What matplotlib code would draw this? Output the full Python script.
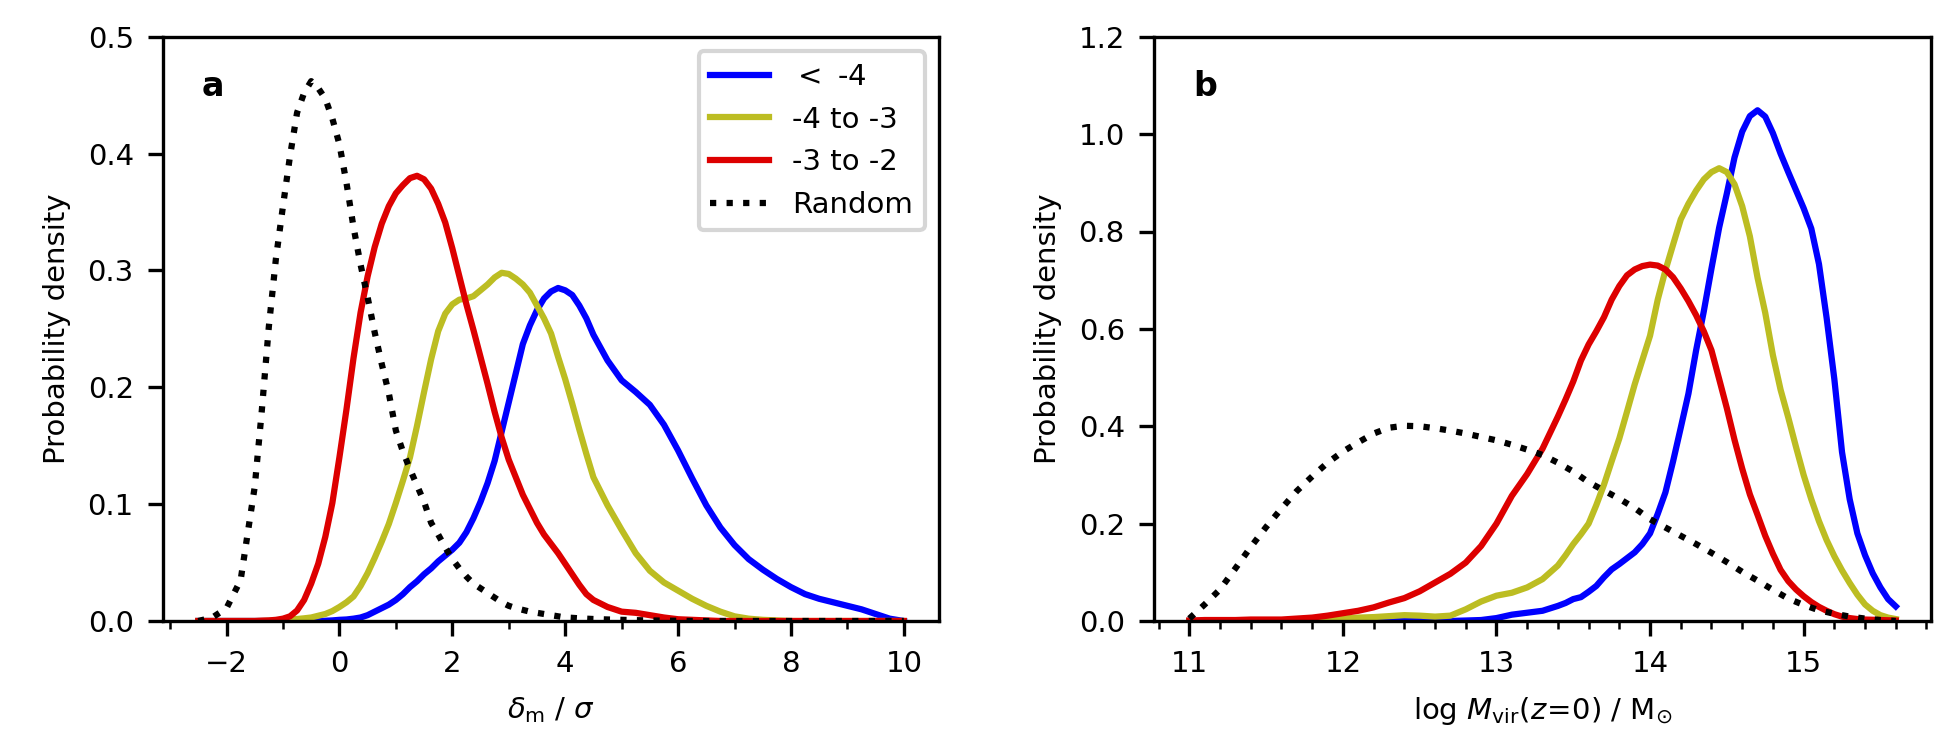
import numpy as np
import matplotlib
matplotlib.use("Agg")
import matplotlib.pyplot as plt
from matplotlib.ticker import AutoMinorLocator, MultipleLocator, FormatStrFormatter

# ---------------- Panel a data: delta_m / sigma ----------------
xa = [-2.5, -2.25, -2.0, -1.75,
      -1.5, -1.375, -1.25, -1.125, -1.0, -0.875, -0.75, -0.625, -0.5, -0.375,
      -0.25, -0.125, 0.0, 0.125, 0.25, 0.375, 0.5, 0.625, 0.75, 0.875,
      1.0, 1.125, 1.25, 1.375, 1.5, 1.625, 1.75, 1.875, 2.0, 2.125,
      2.25, 2.375, 2.5, 2.625, 2.75, 2.875, 3.0, 3.125, 3.25, 3.375,
      3.5, 3.625, 3.75, 3.875, 4.0, 4.125, 4.25, 4.375, 4.5,
      4.75, 5.0, 5.25, 5.5, 5.75, 6.0, 6.25, 6.5, 6.75, 7.0, 7.25,
      7.5, 7.75, 8.0, 8.25, 8.5, 8.75, 9.0, 9.25, 9.5, 9.75, 10.0]

a_lt4 = [0, 0, 0, 0,
         0, 0, 0, 0, 0, 0, 0, 0, 0, 0,
         0.0002, 0.0005, 0.001, 0.0013, 0.002, 0.003, 0.005, 0.008, 0.011, 0.014,
         0.018, 0.023, 0.029, 0.034, 0.040, 0.045, 0.051, 0.056, 0.061, 0.067,
         0.076, 0.088, 0.102, 0.118, 0.137, 0.162, 0.187, 0.212, 0.237, 0.253,
         0.266, 0.276, 0.282, 0.285, 0.283, 0.279, 0.270, 0.259, 0.245,
         0.223, 0.206, 0.196, 0.185, 0.168, 0.146, 0.122, 0.099, 0.080, 0.065, 0.053,
         0.044, 0.036, 0.029, 0.023, 0.019, 0.016, 0.013, 0.010, 0.006, 0.002, 0.0]

a_4to3 = [0, 0, 0, 0,
          0, 0, 0.0002, 0.0005, 0.001, 0.0013, 0.0017, 0.0023, 0.003, 0.0045,
          0.006, 0.0085, 0.012, 0.016, 0.021, 0.030, 0.041, 0.054, 0.068, 0.083,
          0.101, 0.120, 0.140, 0.167, 0.196, 0.224, 0.248, 0.263, 0.271, 0.275,
          0.276, 0.278, 0.283, 0.288, 0.294, 0.298, 0.297, 0.293, 0.288, 0.281,
          0.270, 0.259, 0.246, 0.226, 0.207, 0.186, 0.164, 0.143, 0.123,
          0.099, 0.078, 0.058, 0.043, 0.033, 0.026, 0.019, 0.013, 0.008, 0.004, 0.002,
          0.001, 0.0005, 0, 0, 0, 0, 0, 0, 0, 0, 0]

a_3to2 = [0, 0, 0, 0,
          0.0, 0.0003, 0.0005, 0.001, 0.002, 0.004, 0.009, 0.018, 0.032, 0.049,
          0.072, 0.101, 0.140, 0.181, 0.225, 0.264, 0.295, 0.320, 0.340, 0.355,
          0.366, 0.373, 0.379, 0.381, 0.378, 0.370, 0.357, 0.341, 0.319, 0.295,
          0.271, 0.249, 0.226, 0.203, 0.179, 0.157, 0.138, 0.123, 0.108, 0.096,
          0.084, 0.074, 0.066, 0.058, 0.049, 0.040, 0.031, 0.023, 0.018,
          0.012, 0.008, 0.007, 0.005, 0.003, 0.0015, 0.001, 0.0005, 0, 0, 0,
          0, 0, 0, 0, 0, 0, 0, 0, 0, 0, 0]

a_rand = [0.0, 0.003, 0.011, 0.035,
          0.115, 0.180, 0.252, 0.310, 0.355, 0.398, 0.435, 0.452, 0.462, 0.456,
          0.447, 0.430, 0.408, 0.375, 0.337, 0.305, 0.277, 0.247, 0.220, 0.195,
          0.163, 0.145, 0.130, 0.116, 0.102, 0.084, 0.074, 0.063, 0.053, 0.045,
          0.038, 0.032, 0.028, 0.024, 0.020, 0.016, 0.013, 0.011, 0.0095, 0.008,
          0.007, 0.006, 0.005, 0.004, 0.003, 0.0027, 0.0023, 0.002, 0.0017,
          0.0013, 0.001, 0.0007, 0.0005, 0.0003, 0.0002, 0, 0, 0, 0, 0,
          0, 0, 0, 0, 0, 0, 0, 0, 0, 0, 0]

# ---------------- Panel b data: log Mvir(z=0) ----------------
xb = [11.0, 11.1, 11.2, 11.3, 11.4, 11.5, 11.6, 11.7, 11.8, 11.9,
      12.0, 12.1, 12.2, 12.3, 12.4, 12.5, 12.6, 12.7, 12.8, 12.9,
      13.0, 13.1, 13.2, 13.3, 13.4,
      13.45, 13.5, 13.55, 13.6, 13.65, 13.7, 13.75, 13.8, 13.85, 13.9,
      13.95, 14.0, 14.05, 14.1, 14.15, 14.2, 14.25, 14.3, 14.35, 14.4,
      14.45, 14.5, 14.55, 14.6, 14.65, 14.7, 14.75, 14.8, 14.85, 14.9,
      14.95, 15.0, 15.05, 15.1, 15.15, 15.2, 15.25, 15.3, 15.35, 15.4,
      15.45, 15.5, 15.55, 15.6]

b_lt4 = [0, 0, 0, 0, 0, 0, 0, 0, 0, 0,
         0, 0, 0, 0, 0, 0, 0, 0, 0.001, 0.002,
         0.006, 0.013, 0.017, 0.021, 0.031,
         0.037, 0.045, 0.049, 0.060, 0.072, 0.090, 0.106, 0.117, 0.129, 0.141,
         0.158, 0.180, 0.220, 0.264, 0.328, 0.397, 0.467, 0.556, 0.636, 0.724,
         0.808, 0.878, 0.952, 1.005, 1.037, 1.049, 1.036, 1.002, 0.960, 0.922,
         0.885, 0.848, 0.806, 0.733, 0.622, 0.497, 0.347, 0.250, 0.180, 0.135,
         0.098, 0.069, 0.045, 0.030]

b_4to3 = [0, 0, 0, 0, 0, 0, 0.001, 0.001, 0.002, 0.003,
          0.005, 0.007, 0.008, 0.010, 0.012, 0.011, 0.009, 0.011, 0.024, 0.040,
          0.052, 0.058, 0.069, 0.086, 0.114,
          0.135, 0.158, 0.178, 0.200, 0.238, 0.280, 0.328, 0.375, 0.430, 0.486,
          0.536, 0.586, 0.660, 0.720, 0.773, 0.825, 0.857, 0.884, 0.907, 0.922,
          0.930, 0.922, 0.897, 0.852, 0.790, 0.705, 0.633, 0.546, 0.475, 0.418,
          0.358, 0.300, 0.250, 0.205, 0.166, 0.133, 0.104, 0.078, 0.054, 0.034,
          0.021, 0.012, 0.007, 0.004]

b_3to2 = [0.001, 0.002, 0.002, 0.002, 0.003, 0.003, 0.003, 0.005, 0.007, 0.011,
          0.016, 0.021, 0.028, 0.038, 0.047, 0.061, 0.079, 0.097, 0.120, 0.154,
          0.200, 0.257, 0.302, 0.354, 0.420,
          0.455, 0.492, 0.535, 0.568, 0.595, 0.624, 0.660, 0.688, 0.710, 0.722,
          0.729, 0.732, 0.730, 0.722, 0.706, 0.683, 0.657, 0.628, 0.595, 0.556,
          0.497, 0.437, 0.372, 0.313, 0.260, 0.218, 0.175, 0.138, 0.105, 0.082,
          0.065, 0.051, 0.039, 0.029, 0.021, 0.014, 0.009, 0.006, 0.004, 0.003,
          0.0025, 0.002, 0.0015, 0.001]

xb_rand = [11.0, 11.1, 11.2, 11.3, 11.4, 11.5, 11.6, 11.7, 11.8, 11.9,
           12.0, 12.1, 12.2, 12.3, 12.4, 12.5, 12.6, 12.7, 12.8, 12.9,
           13.0, 13.1, 13.2, 13.3, 13.4, 13.5, 13.6, 13.7, 13.8, 13.9,
           14.0, 14.1, 14.2, 14.3, 14.4, 14.5, 14.6, 14.7, 14.8, 14.9,
           15.0, 15.1, 15.2, 15.3, 15.4, 15.5, 15.6]

b_rand = [0.005, 0.034, 0.065, 0.108, 0.152, 0.193, 0.231, 0.267, 0.297, 0.325,
          0.348, 0.367, 0.385, 0.397, 0.401, 0.400, 0.396, 0.391, 0.385, 0.378,
          0.371, 0.362, 0.352, 0.341, 0.325, 0.307, 0.285, 0.268, 0.251, 0.232,
          0.209, 0.192, 0.175, 0.158, 0.140, 0.121, 0.101, 0.083, 0.064, 0.046,
          0.033, 0.022, 0.015, 0.009, 0.005, 0.002, 0.0]

labels = [r'$<$ -4', '-4 to -3', '-3 to -2', 'Random']
colors = ['#0000ff', '#bcbd22', '#dd0000', 'black']

plt.rcParams['font.family'] = ['DejaVu Sans']
plt.rcParams['font.size'] = 7

fig = plt.figure(figsize=(6.5, 2.5), dpi=300)
ax1 = fig.add_axes([0.0836, 0.172, 0.398, 0.779])
ax2 = fig.add_axes([0.5918, 0.172, 0.3985, 0.779])

lw = 1.5
for ys, lab, col in zip([a_lt4, a_4to3, a_3to2], labels[:3], colors[:3]):
    ax1.plot(xa, ys, color=col, lw=lw, label=lab)
ax1.plot(xa, a_rand, color='black', lw=lw, ls=':', label=labels[3])

for ys, lab, col in zip([b_lt4, b_4to3, b_3to2], labels[:3], colors[:3]):
    ax2.plot(xb, ys, color=col, lw=lw, label=lab)
ax2.plot(xb_rand, b_rand, color='black', lw=lw, ls=':', label=labels[3])

ax1.set_ylim(0, 0.5)
ax1.yaxis.set_major_locator(MultipleLocator(0.1))
ax1.xaxis.set_major_locator(MultipleLocator(2))
ax1.xaxis.set_minor_locator(AutoMinorLocator(2))
ax1.set_xlabel(r'$\delta_{\rm m}$ / $\sigma$')
ax1.set_ylabel('Probability density')
ax1.text(0.05, 0.915, 'a', transform=ax1.transAxes, fontweight='bold',
         fontsize=8, va='center', ha='left')
ax1.legend(loc='upper right', fontsize=7)

ax2.set_ylim(0, 1.2)
ax2.yaxis.set_major_locator(MultipleLocator(0.2))
ax2.xaxis.set_major_locator(MultipleLocator(1))
ax2.xaxis.set_minor_locator(AutoMinorLocator(5))
ax2.set_xlabel(r'log $M_{\rm vir}(z\!=\!0)$ / M$_{\odot}$')
ax2.set_ylabel('Probability density')
ax2.text(0.05, 0.915, 'b', transform=ax2.transAxes, fontweight='bold',
         fontsize=8, va='center', ha='left')

for ax in (ax1, ax2):
    ax.yaxis.set_major_formatter(FormatStrFormatter('%.1f'))
    ax.tick_params(labelsize=7)

fig.savefig('out.png', dpi=300)
